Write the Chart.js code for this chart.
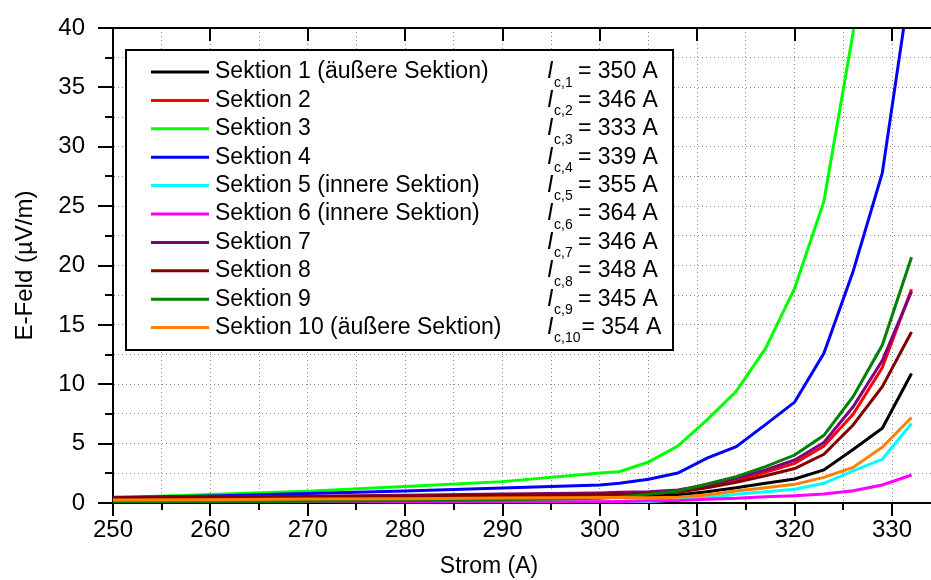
<!DOCTYPE html>
<html lang="de">
<head>
<meta charset="utf-8">
<title>E-Feld über Strom</title>
<script src="https://cdn.jsdelivr.net/npm/chart.js@4.4.1/dist/chart.umd.min.js"></script>
<style>
  html, body { margin: 0; padding: 0; background: #fff; }
  #wrap { width: 931px; height: 580px; position: relative; }
</style>
</head>
<body>
<div id="wrap"><canvas id="c" width="931" height="580"></canvas></div>
<script>
// Strom (A) an den Messpunkten
const strom = [250, 260, 270, 280, 290, 300, 302, 305, 308, 311, 314, 317, 320, 323, 326, 329, 332];

// E-Feld (µV/m) je Sektion
const sektion1  = [0.38, 0.40, 0.44, 0.48, 0.52, 0.57, 0.58, 0.60, 0.67, 0.95, 1.29, 1.66, 2.02, 2.78, 4.50, 6.30, 10.9];
const sektion2  = [0.42, 0.45, 0.50, 0.56, 0.64, 0.72, 0.75, 0.81, 0.95, 1.38, 1.94, 2.58, 3.34, 4.80, 7.47, 11.4, 18.0];
const sektion3  = [0.45, 0.72, 1.00, 1.38, 1.80, 2.52, 2.64, 3.45, 4.80, 7.00, 9.40, 13.0, 18.1, 25.4, 39.6, 60.0, 90.0];
const sektion4  = [0.45, 0.60, 0.80, 1.02, 1.26, 1.52, 1.66, 2.00, 2.52, 3.78, 4.74, 6.60, 8.50, 12.6, 19.5, 27.8, 44.5];
const sektion5  = [0.02, 0.03, 0.05, 0.07, 0.08, 0.10, 0.10, 0.12, 0.25, 0.45, 0.73, 0.95, 1.15, 1.66, 2.70, 3.68, 6.70];
const sektion6  = [0.05, 0.05, 0.06, 0.07, 0.08, 0.10, 0.12, 0.18, 0.20, 0.31, 0.39, 0.53, 0.62, 0.76, 1.04, 1.52, 2.36];
const sektion7  = [0.48, 0.53, 0.57, 0.65, 0.76, 0.85, 0.90, 0.95, 1.09, 1.52, 2.08, 2.78, 3.62, 5.10, 8.10, 12.0, 17.8];
const sektion8  = [0.45, 0.48, 0.52, 0.58, 0.65, 0.74, 0.76, 0.80, 0.90, 1.29, 1.74, 2.30, 2.90, 4.10, 6.57, 9.80, 14.4];
const sektion9  = [0.08, 0.10, 0.14, 0.20, 0.28, 0.40, 0.50, 0.73, 1.01, 1.60, 2.22, 3.06, 4.04, 5.70, 8.95, 13.3, 20.7];
const sektion10 = [0.25, 0.28, 0.33, 0.36, 0.42, 0.46, 0.46, 0.45, 0.48, 0.67, 1.01, 1.29, 1.57, 2.16, 3.00, 4.70, 7.20];

// Legendentexte und kritische Ströme
const sektionNamen = [
  'Sektion 1 (äußere Sektion)', 'Sektion 2', 'Sektion 3', 'Sektion 4',
  'Sektion 5 (innere Sektion)', 'Sektion 6 (innere Sektion)', 'Sektion 7',
  'Sektion 8', 'Sektion 9', 'Sektion 10 (äußere Sektion)'
];
const kritischerStrom = [350, 346, 333, 339, 355, 364, 346, 348, 345, 354];

// beschriftete Achsenwerte
const stromBeschriftung = [250, 260, 270, 280, 290, 300, 310, 320, 330];
const feldBeschriftung = [0, 5, 10, 15, 20, 25, 30, 35, 40];

const werte = [sektion1, sektion2, sektion3, sektion4, sektion5, sektion6, sektion7, sektion8, sektion9, sektion10];
const farben = ['#000000', '#ff0000', '#00ff00', '#0000ff', '#00ffff', '#ff00ff', '#800080', '#800000', '#008000', '#ff8000'];

const SCHRIFT = '"Liberation Sans", Arial, sans-serif';

const datasets = werte.map((w, i) => ({
  label: sektionNamen[i],
  data: w.map((v, k) => ({ x: strom[k], y: v })),
  borderColor: farben[i],
  backgroundColor: farben[i],
  borderWidth: 3,
  pointRadius: 0,
  tension: 0,
  fill: false,
  order: werte.length - i   // spätere Sektionen liegen oben
}));

// Rahmen oben, Teilstriche und Achsentitel
const rahmen = {
  id: 'rahmen',
  afterDraw(chart) {
    const { ctx, chartArea: a, scales: { x, y } } = chart;
    ctx.save();
    ctx.strokeStyle = '#000';
    ctx.lineWidth = 2;
    ctx.beginPath();
    ctx.moveTo(a.left - 1, a.top);
    ctx.lineTo(a.right, a.top);
    ctx.stroke();
    ctx.beginPath();
    x.ticks.forEach(t => {
      const px = Math.round(x.getPixelForValue(t.value));
      const major = stromBeschriftung.includes(t.value);
      ctx.moveTo(px, a.bottom);
      ctx.lineTo(px, a.bottom + (major ? 13 : 7));
      if (major) { ctx.moveTo(px, a.top); ctx.lineTo(px, a.top + 13); }
    });
    y.ticks.forEach(t => {
      const py = Math.round(y.getPixelForValue(t.value));
      const major = feldBeschriftung.includes(t.value);
      ctx.moveTo(a.left, py);
      ctx.lineTo(a.left - (major ? 15 : 8), py);
    });
    ctx.stroke();

    ctx.fillStyle = '#000';
    ctx.textAlign = 'center';
    ctx.textBaseline = 'middle';
    ctx.font = '23px ' + SCHRIFT;
    ctx.fillText('Strom (A)', 489, 567);
    ctx.font = '24px ' + SCHRIFT;
    ctx.translate(25, (a.top + a.bottom) / 2);
    ctx.rotate(-Math.PI / 2);
    ctx.fillText('E-Feld (µV/m)', 0, 0);
    ctx.restore();
  }
};

// Legende mit kritischen Strömen I_c,n
const legende = {
  id: 'legende',
  afterDatasetsDraw(chart) {
    const ctx = chart.ctx;
    const box = { l: 126, t: 50, r: 673, b: 350 };
    ctx.save();
    ctx.fillStyle = '#fff';
    ctx.fillRect(box.l, box.t, box.r - box.l, box.b - box.t);
    ctx.strokeStyle = '#000';
    ctx.lineWidth = 2;
    ctx.strokeRect(box.l, box.t, box.r - box.l, box.b - box.t);
    ctx.textBaseline = 'middle';
    ctx.textAlign = 'left';
    sektionNamen.forEach((name, i) => {
      const yy = 72 + i * 28.4;
      ctx.strokeStyle = farben[i];
      ctx.lineWidth = 3;
      ctx.beginPath();
      ctx.moveTo(151, yy);
      ctx.lineTo(209, yy);
      ctx.stroke();
      ctx.fillStyle = '#000';
      ctx.font = '23px ' + SCHRIFT;
      ctx.fillText(name, 215, yy);
      ctx.font = 'italic 23px ' + SCHRIFT;
      ctx.fillText('I', 547, yy);
      ctx.font = '14px ' + SCHRIFT;
      const sub = 'c,' + (i + 1);
      ctx.fillText(sub, 554, yy + 11);
      const subEnde = 554 + ctx.measureText(sub).width;
      ctx.font = '23px ' + SCHRIFT;
      ctx.fillText('= ' + kritischerStrom[i] + ' A', Math.max(578, subEnde + 1), yy);
    });
    ctx.restore();
  }
};

new Chart(document.getElementById('c'), {
  type: 'line',
  data: { datasets },
  options: {
    responsive: false,
    animation: false,
    devicePixelRatio: 1,
    layout: { padding: { top: 28, right: 0, left: 0, bottom: 0 } },
    plugins: { legend: { display: false }, tooltip: { enabled: false } },
    scales: {
      x: {
        type: 'linear',
        min: 250,
        max: 334,
        afterFit: s => { s.height = 77; s.paddingLeft = 0; s.paddingRight = 0; },
        ticks: {
          stepSize: 5,
          includeBounds: false,
          autoSkip: false,
          maxRotation: 0,
          padding: 13,
          color: '#000',
          font: { family: SCHRIFT, size: 24 },
          callback: v => stromBeschriftung.includes(v) ? String(v) : ''
        },
        grid: { color: '#8c8c8c', lineWidth: 1, drawTicks: false },
        border: { color: '#000', width: 2, dash: [1, 3] }
      },
      y: {
        type: 'linear',
        min: 0,
        max: 40,
        afterFit: s => { s.width = 113; s.paddingTop = 0; s.paddingBottom = 0; },
        ticks: {
          stepSize: 2.5,
          autoSkip: false,
          padding: 28,
          color: '#000',
          font: { family: SCHRIFT, size: 24 },
          callback: v => feldBeschriftung.includes(v) ? String(v) : ''
        },
        grid: { color: '#8c8c8c', lineWidth: 1, drawTicks: false },
        border: { color: '#000', width: 2, dash: [1, 3] }
      }
    }
  },
  plugins: [legende, rahmen]
});
</script>
</body>
</html>
